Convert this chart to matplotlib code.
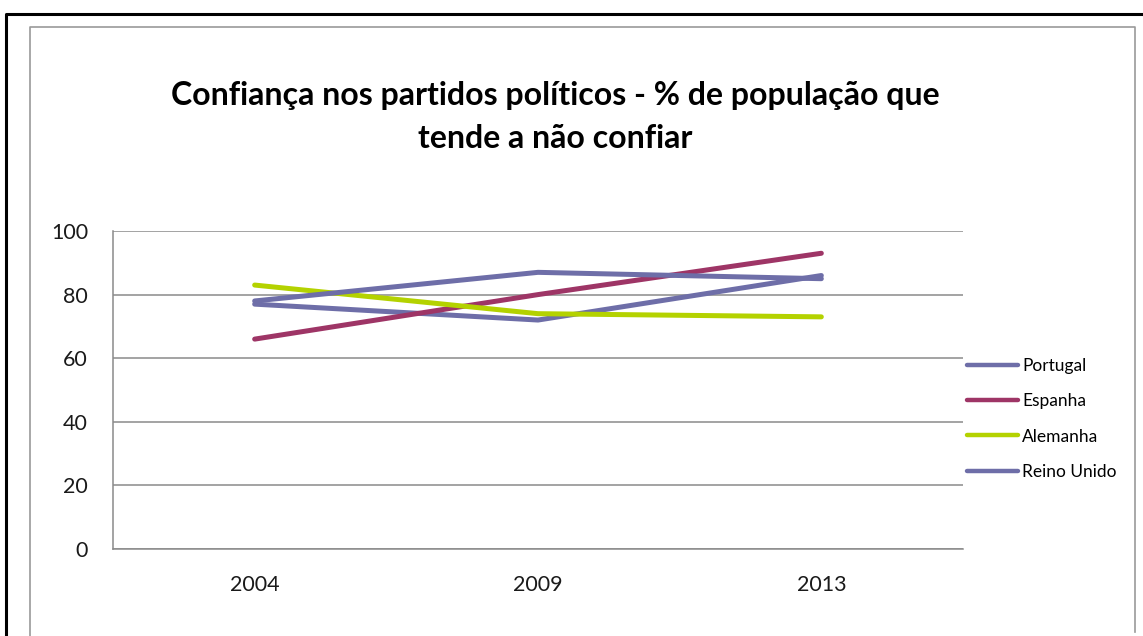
import matplotlib
matplotlib.use("Agg")
import matplotlib.pyplot as plt
from matplotlib.lines import Line2D

years = ["2004", "2009", "2013"]
portugal = [77, 72, 86]
espanha = [66, 80, 93]
alemanha = [83, 74, 73]
reino_unido = [78, 87, 85]
series_names = ["Portugal", "Espanha", "Alemanha", "Reino Unido"]
series_values = [portugal, espanha, alemanha, reino_unido]
series_colors = ["#6E6EA8", "#9E3566", "#B4D200", "#6E6EA8"]
yticks = [0, 20, 40, 60, 80, 100]
title_lines = ["Confiança nos partidos políticos - % de população que",
               "tende a não confiar"]

W, H = 1143, 636
plt.rcParams['font.family'] = ['Lato', 'DejaVu Sans']
fig = plt.figure(figsize=(W / 100, H / 100), dpi=100)

def fx(px):
    return px / W

def fy(py):
    return 1 - py / H

# frames
fig.add_artist(Line2D([fx(6), fx(6), fx(W)], [fy(H), fy(14), fy(14)],
                      color="black", lw=2.2, transform=fig.transFigure))
fig.add_artist(Line2D([fx(30), fx(30), fx(1135), fx(1135)],
                      [fy(H), fy(27), fy(27), fy(632)],
                      color="#9A9A9A", lw=1.2, transform=fig.transFigure))

ax = fig.add_axes([fx(113), fy(549), fx(963) - fx(113), fy(231) - fy(549)])
xpos = [i + 0.5 for i in range(len(years))]
for name, vals, col in zip(series_names, series_values, series_colors):
    ax.plot(xpos, vals, color=col, lw=3.6, label=name, solid_capstyle="round", zorder=3)

ax.set_xlim(0, len(years))
ax.set_ylim(0, 100)
ax.set_yticks(yticks)
ax.set_xticks(xpos)
ax.set_xticklabels(years)
ax.yaxis.grid(True, color="#8A8A8A", lw=1.1)
ax.set_axisbelow(True)
for s in ["top", "right"]:
    ax.spines[s].set_visible(False)
for s in ["left", "bottom"]:
    ax.spines[s].set_color("#8A8A8A")
    ax.spines[s].set_linewidth(1.1)
ax.tick_params(axis="both", length=0, labelsize=15.5, colors="#1A1A1A")
ax.tick_params(axis="y", pad=18)
ax.tick_params(axis="x", pad=19)

leg = ax.legend(loc="center left", frameon=False, fontsize=12.5,
                handlelength=2.9, handletextpad=0.25,
                labelspacing=1.1, borderaxespad=0.0)
leg.set_bbox_to_anchor((0.997, (549 - 419) / (549 - 231)), transform=ax.transAxes)
for h in leg.legend_handles:
    h.set_linewidth(3.2)

fig.text(fx(555), fy(95), title_lines[0],
         ha="center", va="center", fontsize=23, fontweight="bold", color="black")
fig.text(fx(555), fy(138), title_lines[1],
         ha="center", va="center", fontsize=23, fontweight="bold", color="black")

fig.savefig("out.png", dpi=100, facecolor="white")
